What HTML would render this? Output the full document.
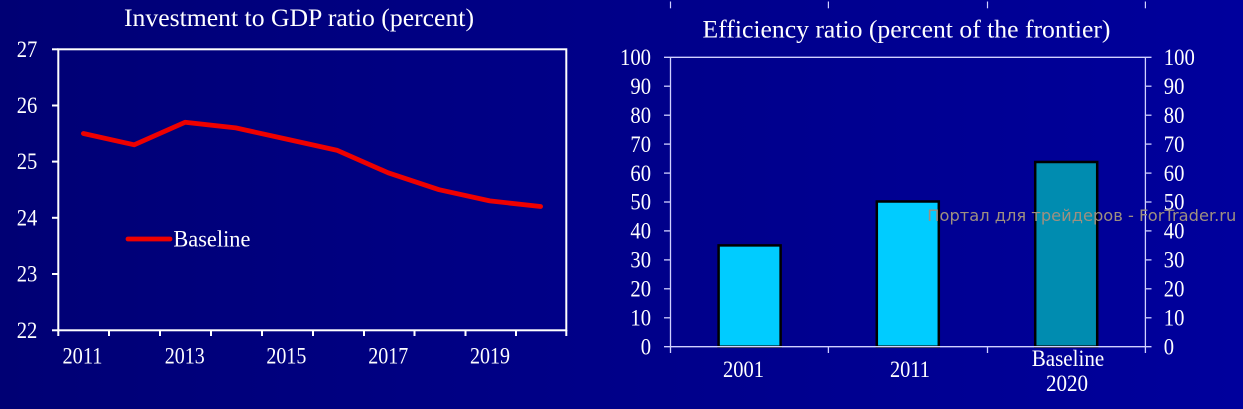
<!DOCTYPE html>
<html><head><meta charset="utf-8"><style>
html,body{margin:0;padding:0;width:1243px;height:409px;overflow:hidden;background:#000088;}
svg{display:block}
text{font-family:"Liberation Serif","DejaVu Serif",serif;fill:#ffffff;}
</style></head><body>
<svg width="1243" height="409" viewBox="0 0 1243 409" xmlns="http://www.w3.org/2000/svg">
<defs>
<linearGradient id="bg" x1="0" y1="0" x2="1" y2="0">
<stop offset="0" stop-color="#000074"/>
<stop offset="0.45" stop-color="#000087"/>
<stop offset="1" stop-color="#00009c"/>
</linearGradient>
</defs>
<rect x="0" y="0" width="1243" height="409" fill="url(#bg)"/>

<!-- LEFT CHART -->
<text x="299" y="26" font-size="25" text-anchor="middle" textLength="350" lengthAdjust="spacingAndGlyphs">Investment to GDP ratio (percent)</text>
<g stroke="#ffffff" stroke-width="2" fill="none">
<rect x="58.3" y="49.3" width="508" height="281"/>
<line x1="52" y1="49.3" x2="58.3" y2="49.3"/>
<line x1="52" y1="105.5" x2="58.3" y2="105.5"/>
<line x1="52" y1="161.6" x2="58.3" y2="161.6"/>
<line x1="52" y1="217.8" x2="58.3" y2="217.8"/>
<line x1="52" y1="274" x2="58.3" y2="274"/>
<line x1="52" y1="330.3" x2="58.3" y2="330.3"/>
<line x1="58.3" y1="330" x2="58.3" y2="336"/>
<line x1="109" y1="330" x2="109" y2="336"/>
<line x1="160" y1="330" x2="160" y2="336"/>
<line x1="211" y1="330" x2="211" y2="336"/>
<line x1="262" y1="330" x2="262" y2="336"/>
<line x1="313" y1="330" x2="313" y2="336"/>
<line x1="364" y1="330" x2="364" y2="336"/>
<line x1="414.5" y1="330" x2="414.5" y2="336"/>
<line x1="465.5" y1="330" x2="465.5" y2="336"/>
<line x1="516" y1="330" x2="516" y2="336"/>
<line x1="566.3" y1="330" x2="566.3" y2="336"/>
</g>
<g font-size="23" text-anchor="end">
<text x="37.3" y="57" textLength="20.6" lengthAdjust="spacingAndGlyphs">27</text>
<text x="37.3" y="113" textLength="20.6" lengthAdjust="spacingAndGlyphs">26</text>
<text x="37.3" y="169.2" textLength="20.6" lengthAdjust="spacingAndGlyphs">25</text>
<text x="37.3" y="225.4" textLength="20.6" lengthAdjust="spacingAndGlyphs">24</text>
<text x="37.3" y="281.6" textLength="20.6" lengthAdjust="spacingAndGlyphs">23</text>
<text x="37.3" y="337.8" textLength="20.6" lengthAdjust="spacingAndGlyphs">22</text>
</g>
<g font-size="23" text-anchor="middle">
<text x="82.5" y="363.3" textLength="40" lengthAdjust="spacingAndGlyphs">2011</text>
<text x="184.7" y="363.3" textLength="40" lengthAdjust="spacingAndGlyphs">2013</text>
<text x="286.4" y="363.3" textLength="40" lengthAdjust="spacingAndGlyphs">2015</text>
<text x="388.2" y="363.3" textLength="40" lengthAdjust="spacingAndGlyphs">2017</text>
<text x="490" y="363.3" textLength="40" lengthAdjust="spacingAndGlyphs">2019</text>
</g>
<polyline points="83.4,133.5 134.2,144.8 185,122.3 235.8,127.9 286.6,139.1 337.4,150.4 388.2,172.8 439,189.7 489.8,200.9 540.6,206.5" fill="none" stroke="#ee0000" stroke-width="4.8" stroke-linejoin="round" stroke-linecap="round"/>
<line x1="128" y1="239" x2="170" y2="239" stroke="#ee0000" stroke-width="4.8" stroke-linecap="round"/>
<text x="173.4" y="246.7" font-size="23" textLength="77" lengthAdjust="spacingAndGlyphs">Baseline</text>

<!-- RIGHT CHART -->
<g stroke="#d0d0ff" stroke-width="1.2">
<line x1="670.5" y1="1.5" x2="670.5" y2="8.3"/>
<line x1="828.4" y1="1.5" x2="828.4" y2="8.3"/>
<line x1="987.5" y1="1.5" x2="987.5" y2="8.3"/>
<line x1="1145.4" y1="1.5" x2="1145.4" y2="8.3"/>
</g>
<text x="906.5" y="37.3" font-size="25" text-anchor="middle" textLength="408" lengthAdjust="spacingAndGlyphs">Efficiency ratio (percent of the frontier)</text>

<!-- bars -->
<g stroke="#000000" stroke-width="2.5">
<rect x="718.6" y="245.4" width="62" height="101.3" fill="#00ccff"/>
<rect x="876.8" y="201.5" width="62" height="145.2" fill="#00ccff"/>
<rect x="1035.2" y="162" width="62" height="184.7" fill="#008cb0"/>
</g>

<g stroke="#d0d0ff" stroke-width="1.3" fill="none">
<line x1="670.5" y1="57.3" x2="670.5" y2="353"/>
<line x1="1145.4" y1="57.3" x2="1145.4" y2="353"/>
<line x1="664" y1="57.3" x2="1151.5" y2="57.3"/>
<line x1="664" y1="346.7" x2="1151.5" y2="346.7"/>
<line x1="828.4" y1="346.7" x2="828.4" y2="353"/>
<line x1="987.5" y1="346.7" x2="987.5" y2="353"/>
<line x1="664" y1="86.2" x2="670.5" y2="86.2"/>
<line x1="664" y1="115.2" x2="670.5" y2="115.2"/>
<line x1="664" y1="144.1" x2="670.5" y2="144.1"/>
<line x1="664" y1="173.1" x2="670.5" y2="173.1"/>
<line x1="664" y1="202" x2="670.5" y2="202"/>
<line x1="664" y1="230.9" x2="670.5" y2="230.9"/>
<line x1="664" y1="259.9" x2="670.5" y2="259.9"/>
<line x1="664" y1="288.8" x2="670.5" y2="288.8"/>
<line x1="664" y1="317.8" x2="670.5" y2="317.8"/>
<line x1="1145.4" y1="86.2" x2="1151.5" y2="86.2"/>
<line x1="1145.4" y1="115.2" x2="1151.5" y2="115.2"/>
<line x1="1145.4" y1="144.1" x2="1151.5" y2="144.1"/>
<line x1="1145.4" y1="173.1" x2="1151.5" y2="173.1"/>
<line x1="1145.4" y1="202" x2="1151.5" y2="202"/>
<line x1="1145.4" y1="230.9" x2="1151.5" y2="230.9"/>
<line x1="1145.4" y1="259.9" x2="1151.5" y2="259.9"/>
<line x1="1145.4" y1="288.8" x2="1151.5" y2="288.8"/>
<line x1="1145.4" y1="317.8" x2="1151.5" y2="317.8"/>
</g>

<g font-size="23" text-anchor="end">
<text x="651" y="65" textLength="31" lengthAdjust="spacingAndGlyphs">100</text>
<text x="651" y="93.9" textLength="20.6" lengthAdjust="spacingAndGlyphs">90</text>
<text x="651" y="122.9" textLength="20.6" lengthAdjust="spacingAndGlyphs">80</text>
<text x="651" y="151.8" textLength="20.6" lengthAdjust="spacingAndGlyphs">70</text>
<text x="651" y="180.8" textLength="20.6" lengthAdjust="spacingAndGlyphs">60</text>
<text x="651" y="209.7" textLength="20.6" lengthAdjust="spacingAndGlyphs">50</text>
<text x="651" y="238.6" textLength="20.6" lengthAdjust="spacingAndGlyphs">40</text>
<text x="651" y="267.6" textLength="20.6" lengthAdjust="spacingAndGlyphs">30</text>
<text x="651" y="296.5" textLength="20.6" lengthAdjust="spacingAndGlyphs">20</text>
<text x="651" y="325.5" textLength="20.6" lengthAdjust="spacingAndGlyphs">10</text>
<text x="651" y="354.4" textLength="10.3" lengthAdjust="spacingAndGlyphs">0</text>
</g>
<g font-size="23" text-anchor="start">
<text x="1163.8" y="65" textLength="31" lengthAdjust="spacingAndGlyphs">100</text>
<text x="1163.8" y="93.9" textLength="20.6" lengthAdjust="spacingAndGlyphs">90</text>
<text x="1163.8" y="122.9" textLength="20.6" lengthAdjust="spacingAndGlyphs">80</text>
<text x="1163.8" y="151.8" textLength="20.6" lengthAdjust="spacingAndGlyphs">70</text>
<text x="1163.8" y="180.8" textLength="20.6" lengthAdjust="spacingAndGlyphs">60</text>
<text x="1163.8" y="209.7" textLength="20.6" lengthAdjust="spacingAndGlyphs">50</text>
<text x="1163.8" y="238.6" textLength="20.6" lengthAdjust="spacingAndGlyphs">40</text>
<text x="1163.8" y="267.6" textLength="20.6" lengthAdjust="spacingAndGlyphs">30</text>
<text x="1163.8" y="296.5" textLength="20.6" lengthAdjust="spacingAndGlyphs">20</text>
<text x="1163.8" y="325.5" textLength="20.6" lengthAdjust="spacingAndGlyphs">10</text>
<text x="1163.8" y="354.4" textLength="10.3" lengthAdjust="spacingAndGlyphs">0</text>
</g>
<g font-size="23" text-anchor="middle">
<text x="743.5" y="377" textLength="41" lengthAdjust="spacingAndGlyphs">2001</text>
<text x="910" y="377" textLength="40" lengthAdjust="spacingAndGlyphs">2011</text>
<text x="1068" y="366" textLength="72.6" lengthAdjust="spacingAndGlyphs">Baseline</text>
<text x="1067" y="391" textLength="42" lengthAdjust="spacingAndGlyphs">2020</text>
</g>

<text x="927.3" y="221" font-size="16" style="font-family:'DejaVu Sans','Liberation Sans',sans-serif;fill:#9e9080" textLength="309" lengthAdjust="spacingAndGlyphs">Портал для трейдеров - ForTrader.ru</text>
</svg>
</body></html>
